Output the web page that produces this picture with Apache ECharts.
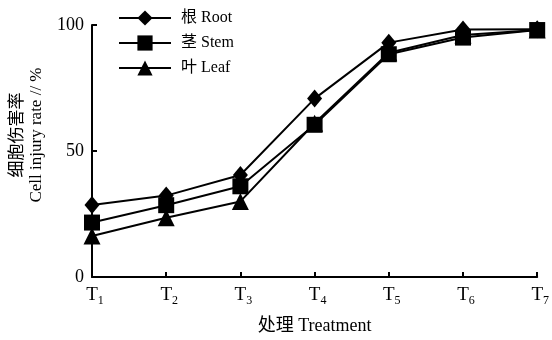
<!DOCTYPE html>
<html>
<head>
<meta charset="utf-8">
<script src="https://cdn.jsdelivr.net/npm/echarts@6/dist/echarts.min.js"></script>
<style>html,body{margin:0;padding:0;background:#fff}#c{width:552px;height:340px}</style>
</head>
<body>
<div id="c"></div>
<script>
const categories = ['T1','T2','T3','T4','T5','T6','T7'];
const rootValues = [28.6, 32.3, 40.5, 70.8, 93.0, 98.2, 98.3];
const stemValues = [21.6, 28.5, 36.0, 60.4, 88.4, 95.0, 98.0];
const leafValues = [16.3, 23.5, 30.0, 61.0, 89.0, 96.0, 98.0];
const seriesNames = ['根 Root', '茎 Stem', '叶 Leaf'];
const yTicks = [0, 50, 100];

const serif = 'Liberation Serif, Noto Sans CJK SC, serif';
const chart = echarts.init(document.getElementById('c'), null, {renderer:'canvas'});
function mk(name, data, symbol, size){
  return {
    name, type:'line', data, symbol, symbolSize:size,
    lineStyle:{color:'#000', width:2},
    itemStyle:{color:'#000', borderWidth:0},
    emphasis:{disabled:true}, animation:false, z: 3
  };
}
chart.setOption({
  animation:false,
  backgroundColor:'#fff',
  grid:{left:91, right:9, top:25, bottom:60, containLabel:false},
  legend:{
    orient:'vertical', left:113, top:5, itemWidth:52, itemHeight:19, itemGap:9,
    data:seriesNames,
    textStyle:{fontFamily:serif, fontSize:16, color:'#000', padding:[0,0,0,5]}
  },
  xAxis:{
    type:'category', data:categories, boundaryGap:false,
    axisLine:{lineStyle:{color:'#000', width:2}},
    axisTick:{inside:true, length:5, lineStyle:{color:'#000', width:2}, alignWithLabel:true},
    axisLabel:{
      margin:6, interval:0,
      formatter:v => '{t|T}{s|' + v.slice(1) + '}',
      rich:{
        t:{fontFamily:serif, fontSize:19, color:'#000', padding:[0,0,0,6]},
        s:{fontFamily:serif, fontSize:12, color:'#000', padding:[12,0,0,0]}
      }
    },
    name:'处理 Treatment', nameLocation:'middle', nameGap:40,
    nameTextStyle:{fontFamily:serif, fontSize:18, color:'#000'}
  },
  yAxis:{
    type:'value', min:0, max:100, interval:50,
    axisLine:{show:true, lineStyle:{color:'#000', width:2}},
    axisTick:{show:true, inside:true, length:5, lineStyle:{color:'#000', width:2}},
    splitLine:{show:false},
    axisLabel:{fontFamily:serif, fontSize:18, color:'#000', margin:8,
      formatter:v => yTicks.includes(v) ? String(v) : ''},
    name:'细胞伤害率\nCell injury rate // %', nameLocation:'middle', nameGap:46,
    nameTextStyle:{fontFamily:serif, fontSize:17, lineHeight:19, color:'#000', padding:[0,0,0,32]}
  },
  series:[
    mk(seriesNames[0], rootValues, 'diamond', [15,18]),
    mk(seriesNames[1], stemValues, 'rect', 16),
    mk(seriesNames[2], leafValues, 'triangle', 17)
  ]
});
</script>
</body>
</html>
